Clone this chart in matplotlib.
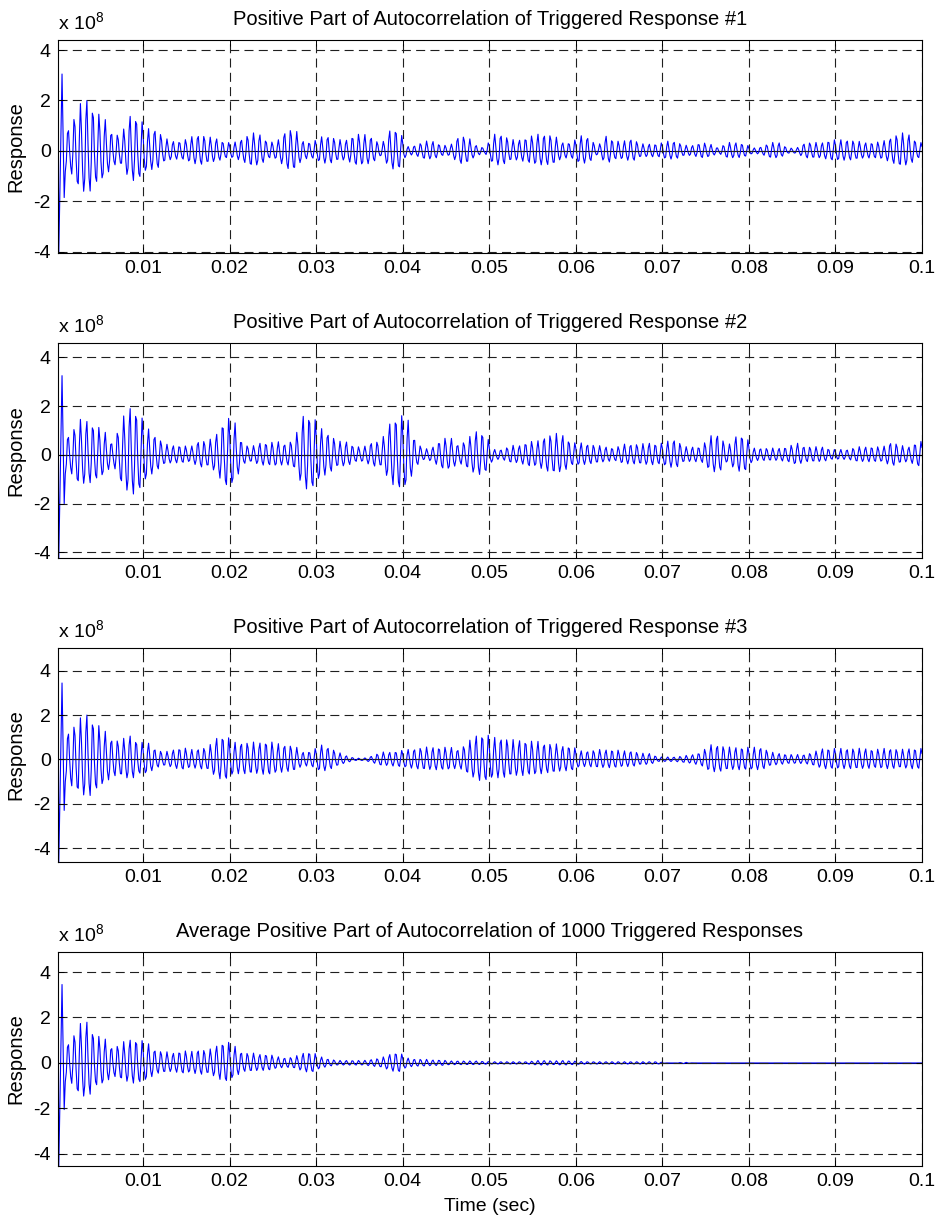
import numpy as np
import matplotlib
matplotlib.use("Agg")
import matplotlib.pyplot as plt

plt.rcParams['font.family'] = ['Liberation Sans', 'DejaVu Sans']
plt.rcParams['mathtext.default'] = 'regular'
plt.rcParams['lines.scale_dashes'] = False

# sampling of the autocorrelation lags
fs = 8000
f_osc = 1400.0
t = np.arange(1, 801) / fs

titles = [
    "Positive Part of Autocorrelation of Triggered Response #1",
    "Positive Part of Autocorrelation of Triggered Response #2",
    "Positive Part of Autocorrelation of Triggered Response #3",
    "Average Positive Part of Autocorrelation of 1000 Triggered Responses",
]

# first lags (x 1e8): zero-lag peak and the first swings
head_t = [0.000125, 0.00025, 0.000625, 0.000875]
head1 = [4.40, -4.05, 3.05, -1.85]
head2 = [4.59, -4.23, 3.25, -2.00]
head3 = [5.03, -4.63, 3.45, -2.30]
head4 = [4.88, -4.53, 3.45, -2.05]

# oscillation envelope (x 1e8), one value per millisecond
env1 = [1.0, 0.8, 1.6, 1.9, 1.4, 1.2, 0.6, 0.6, 1.3, 1.2,
        0.8, 0.8, 0.45, 0.35, 0.35, 0.5, 0.6, 0.5, 0.45, 0.3,
        0.3, 0.45, 0.65, 0.6, 0.3, 0.35, 0.75, 0.8, 0.35, 0.3,
        0.5, 0.55, 0.4, 0.4, 0.6, 0.6, 0.5, 0.2, 0.75, 0.8,
        0.15, 0.2, 0.35, 0.35, 0.2, 0.2, 0.55, 0.5, 0.2, 0.1,
        0.6, 0.6, 0.4, 0.4, 0.5, 0.6, 0.6, 0.55, 0.3, 0.3,
        0.55, 0.5, 0.15, 0.55, 0.35, 0.35, 0.45, 0.25, 0.25, 0.25,
        0.35, 0.35, 0.2, 0.2, 0.3, 0.25, 0.1, 0.3, 0.3, 0.25,
        0.1, 0.15, 0.3, 0.3, 0.1, 0.1, 0.3, 0.3, 0.3, 0.4,
        0.4, 0.4, 0.35, 0.3, 0.3, 0.35, 0.5, 0.65, 0.6, 0.3]
env2 = [1.0, 0.7, 1.3, 1.3, 1.1, 0.9, 0.4, 1.3, 1.8, 1.6,
        1.0, 0.7, 0.4, 0.35, 0.35, 0.3, 0.55, 0.5, 0.8, 1.4,
        1.3, 0.4, 0.3, 0.45, 0.45, 0.5, 0.4, 0.6, 1.5, 1.5,
        1.0, 0.8, 0.5, 0.5, 0.3, 0.3, 0.5, 0.5, 1.2, 1.5,
        1.4, 0.5, 0.2, 0.3, 0.6, 0.65, 0.35, 0.6, 0.9, 0.8,
        0.2, 0.2, 0.35, 0.35, 0.5, 0.5, 0.7, 0.8, 0.75, 0.45,
        0.45, 0.4, 0.35, 0.3, 0.25, 0.4, 0.4, 0.4, 0.45, 0.4,
        0.5, 0.6, 0.3, 0.3, 0.3, 0.7, 0.8, 0.3, 0.7, 0.75,
        0.25, 0.25, 0.25, 0.25, 0.3, 0.45, 0.3, 0.3, 0.3, 0.2,
        0.2, 0.2, 0.3, 0.3, 0.3, 0.3, 0.5, 0.35, 0.3, 0.5]
env3 = [1.0, 1.2, 1.6, 1.9, 1.5, 1.2, 0.8, 0.8, 1.0, 0.7,
        0.7, 0.4, 0.3, 0.4, 0.5, 0.4, 0.45, 0.5, 0.9, 1.0,
        0.7, 0.7, 0.7, 0.7, 0.75, 0.65, 0.6, 0.55, 0.3, 0.35,
        0.6, 0.5, 0.3, 0.15, 0.05, 0.05, 0.15, 0.3, 0.3, 0.35,
        0.4, 0.45, 0.5, 0.5, 0.5, 0.5, 0.4, 0.7, 1.0, 1.05,
        0.9, 0.9, 0.8, 0.8, 0.75, 0.75, 0.65, 0.65, 0.55, 0.55,
        0.35, 0.35, 0.4, 0.4, 0.4, 0.35, 0.35, 0.25, 0.25, 0.1,
        0.1, 0.1, 0.15, 0.2, 0.3, 0.6, 0.6, 0.5, 0.5, 0.5,
        0.5, 0.5, 0.3, 0.25, 0.2, 0.2, 0.2, 0.3, 0.45, 0.45,
        0.45, 0.45, 0.45, 0.45, 0.4, 0.45, 0.45, 0.4, 0.45, 0.45]
env4 = [1.0, 0.8, 1.5, 1.7, 1.1, 1.0, 0.6, 0.8, 0.95, 0.95,
        0.8, 0.5, 0.45, 0.4, 0.5, 0.45, 0.55, 0.5, 0.7, 0.9,
        0.7, 0.4, 0.4, 0.35, 0.35, 0.25, 0.2, 0.25, 0.4, 0.45,
        0.25, 0.15, 0.1, 0.1, 0.1, 0.1, 0.15, 0.2, 0.35, 0.45,
        0.2, 0.15, 0.15, 0.12, 0.12, 0.08, 0.08, 0.08, 0.08, 0.06,
        0.05, 0.05, 0.05, 0.05, 0.05, 0.1, 0.1, 0.08, 0.1, 0.08,
        0.06, 0.05, 0.05, 0.05, 0.05, 0.05, 0.05, 0.05, 0.05, 0.05,
        0.0, 0.0, 0.03, 0.0, 0.0, 0.0, 0.0, 0.0, 0.0, 0.0,
        0.0, 0.0, 0.0, 0.0, 0.0, 0.0, 0.0, 0.0, 0.0, 0.0,
        0.0, 0.0, 0.0, 0.0, 0.0, 0.0, 0.0, 0.0, 0.0, 0.0]

heads = [head1, head2, head3, head4]
envs = [env1, env2, env3, env4]
env_t = 0.0005 + 0.001 * np.arange(100)


def build_trace(head, env):
    ph = 2 * np.pi * f_osc * (t - 0.000625)
    wave = np.cos(ph) + 0.15 * np.cos(2 * ph + 0.8)
    y = np.interp(t, env_t, env) * wave
    early = t < 0.0009
    y[early] = np.interp(t[early], head_t, head)
    return y * 1e8


# axes boxes in pixels (top, bottom) on a 936 x 1219 canvas
W, H = 936, 1219
ax_left, ax_right = 57.7, 922.0
rows = [(40, 253), (343, 558), (648, 862), (952, 1166)]
fsz = 14.5

fig = plt.figure(figsize=(W / 100, H / 100), dpi=100)
grid_kw = dict(color='0.12', linestyle=(0, (6.5, 3.8)), linewidth=0.8)

for i, ((top, bot), head, env, title) in enumerate(zip(rows, heads, envs, titles)):
    ax = fig.add_axes([ax_left / W, 1 - bot / H, (ax_right - ax_left) / W, (bot - top) / H])
    y = build_trace(head, env)
    ax.axhline(0, color='k', linewidth=0.8, zorder=1.5)
    ax.plot(t, y, color=(0, 0, 1), linewidth=0.8, zorder=2)
    ax.set_xlim(t[0], t[-1])
    ax.set_ylim(y.min(), y.max())
    ax.set_xticks(np.arange(0.01, 0.1001, 0.01))
    ax.set_xticklabels(['0.01', '0.02', '0.03', '0.04', '0.05', '0.06', '0.07', '0.08', '0.09', '0.1'])
    ax.set_yticks([-4e8, -2e8, 0, 2e8, 4e8])
    ax.set_yticklabels(['-4', '-2', '0', '2', '4'])
    ax.set_axisbelow(False)
    ax.grid(True, **grid_kw)
    ax.tick_params(direction='in', length=4, width=0.7, top=True, right=True,
                   labelsize=14, pad=5)
    for s in ax.spines.values():
        s.set_linewidth(0.8)
    ax.set_title(title, fontsize=fsz, pad=10.5)
    ax.set_ylabel('Response', fontsize=fsz)
    ax.yaxis.set_label_coords(-(ax_left - 25.5) / (ax_right - ax_left), 0.5)
    ax.annotate(r'x 10$^{8}$', xy=(0, 1), xycoords='axes fraction',
                xytext=(0, 7.7), textcoords='offset points',
                fontsize=14, ha='left', va='baseline')
    if i == 3:
        ax.set_xlabel('Time (sec)', fontsize=14, labelpad=6)

fig.savefig('out.png', dpi=100)
